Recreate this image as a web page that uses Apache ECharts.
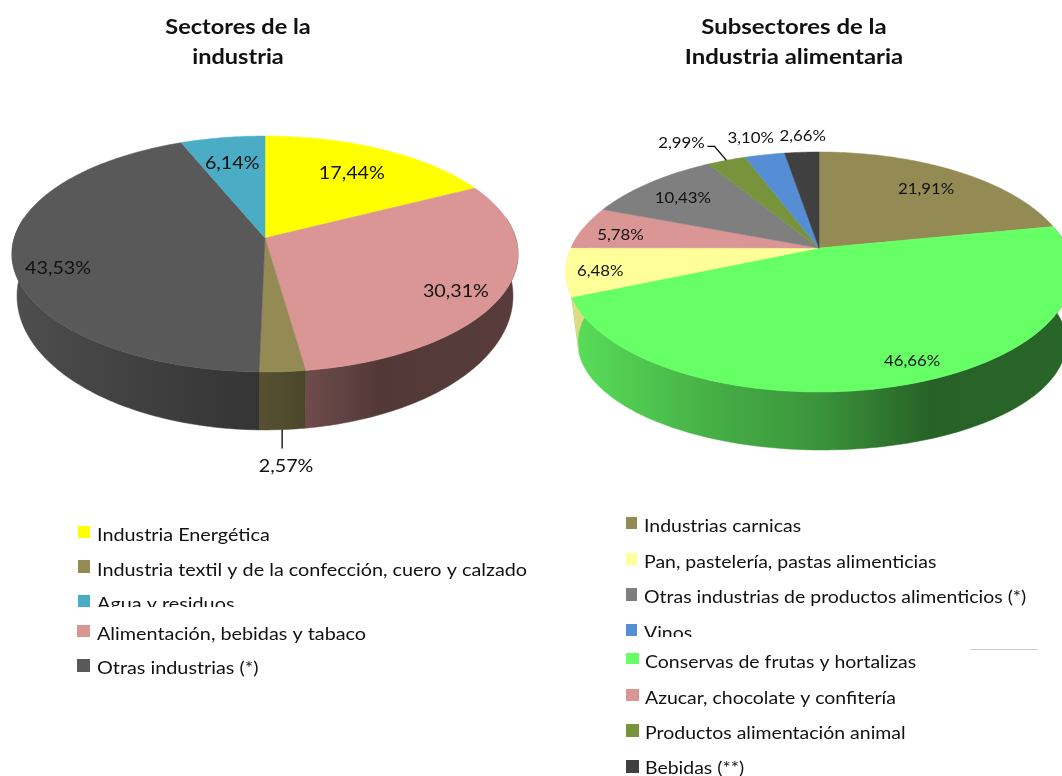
<!DOCTYPE html>
<html><head><meta charset="utf-8">
<style>html,body{margin:0;padding:0;background:#fff}#c{width:1062px;height:776px}</style>
<script src="https://cdn.jsdelivr.net/npm/echarts@6/dist/echarts.min.js"></script>
</head><body><div id="c"></div>
<script>
// ---- data ----
var sectorCategories = ['Industria Energética','Alimentación, bebidas y tabaco','Industria textil y de la confección, cuero y calzado','Otras industrias (*)','Agua y residuos'];
var sectorValues = [17.44,30.31,2.57,43.53,6.14];
var sectorLabels = ['17,44%','30,31%','2,57%','43,53%','6,14%'];
var sectorColors = ['#ffff00','#d99694','#948a54','#595959','#4bacc6'];
var sectorLegendOrder = [0,2,4,1,3];

var foodCategories = ['Industrias carnicas','Conservas de frutas y hortalizas','Pan, pastelería, pastas alimenticias','Azucar, chocolate y confitería','Otras industrias de productos alimenticios (*)','Productos alimentación animal','Vinos','Bebidas (**)'];
var foodValues = [21.91,46.66,6.48,5.78,10.43,2.99,3.10,2.66];
var foodLabels = ['21,91%','46,66%','6,48%','5,78%','10,43%','2,99%','3,10%','2,66%'];
var foodColors = ['#948a54','#66ff66','#ffff99','#d99694','#7f7f7f','#77933c','#558ed5','#404040'];
var foodLegendOrder = [0,2,4,6,1,3,5,7];

var titleTexts = ['Sectores de la\nindustria','Subsectores de la\nIndustria alimentaria'];

// ---- layout / style ----
var FONT = 'Lato';
var pieLeft = {
  cx:265, cy:238, A:250.7, B:115.8, a:0.1356, cxB:265, yBottom:277.8, A2:245.7, B2:131.5, aB:0.1356,
  x0:13, x1:519, labelSize:17, labelScale:1.16,
  // radial fraction, dx, dy, anchor on bottom rim
  place:[[0.72,0,0],[0.83,-4,5],[1,4,35,true],[0.84,4.5,11],[0.7,-2,-3]],
  leader:[null,null,[[0,0],[0,19]],null,null]
};
var pieRight = {
  cx:819, cy:248, A:247.9, B:115.2, a:0.2, cxB:822, yBottom:310, A2:233, B2:98, aB:0.3,
  x0:566, x1:1072, labelSize:15, labelScale:1.12,
  place:[[0.76,0,0],[0.8,24,8],[0.9,8,0],[0.84,0,3],[0.76,-4,0],[1,-45,-19],[1,-14,-18],[1,1,-18]],
  leader:[null,null,null,null,null,[[0,0],[-12,-14],[-19,-14]],null,null]
};
var shadeStops = [[0,0.88],[0.3,0.68],[0.5,0.58],[0.72,0.38],[1,0.40]];

function shade(hex,k){
  var n=parseInt(hex.slice(1),16);
  var r=Math.round(((n>>16)&255)*k),g=Math.round(((n>>8)&255)*k),b=Math.round((n&255)*k);
  return 'rgb('+r+','+g+','+b+')';
}
function topPt(p,deg,f){
  var t=deg*Math.PI/180,u=Math.sin(t)*f,v=Math.cos(t)*f,d=1+p.a*v;
  return [p.cx+p.A*u/d,p.cy-p.B*v/d];
}
function botPt(p,deg){
  var t=deg*Math.PI/180,u=Math.sin(t),v=Math.cos(t),d=1+p.aB*v;
  return [p.cxB+p.A2*u/d,p.yBottom-p.B2*v/d];
}
function angles(values,i){
  var tot=0,st=0,j;
  for(j=0;j<values.length;j++){tot+=values[j]; if(j<i) st+=values[j];}
  return [st/tot*360,(st+values[i])/tot*360];
}
function arc(fn,s,e){
  var pts=[],n=Math.max(2,Math.ceil(e-s)),k;
  for(k=0;k<=n;k++) pts.push(fn(s+(e-s)*k/n));
  return pts;
}
function wallSeries(p,values,colors){
  return {type:'custom',coordinateSystem:'none',silent:true,clip:false,
    data:values.map(function(v,i){return [v,i];}),
    renderItem:function(params,api){
      var i=api.value(1),ang=angles(values,i),kids=[];
      var s=Math.max(ang[0],80),e=Math.min(ang[1],280);
      if(e<=s) return {type:'group',children:[]};
      var top=arc(function(d){return topPt(p,d,1);},s,e);
      var bot=arc(function(d){return botPt(p,d);},s,e).reverse();
      var fill=new echarts.graphic.LinearGradient(p.x0,0,p.x1,0,shadeStops.map(function(q){
        return {offset:q[0],color:shade(colors[i],q[1])};}),true);
      kids.push({type:'polygon',shape:{points:top.concat(bot)},style:{fill:fill,stroke:fill,lineWidth:0.5}});
      return {type:'group',children:kids};
    }};
}
function faceSeries(p,values,colors){
  return {type:'custom',coordinateSystem:'none',silent:true,clip:false,
    data:values.map(function(v,i){return [v,i];}),
    renderItem:function(params,api){
      var i=api.value(1),ang=angles(values,i);
      var rim=arc(function(d){return topPt(p,d,1);},ang[0],ang[1]);
      return {type:'polygon',shape:{points:[[p.cx,p.cy]].concat(rim)},
        style:{fill:colors[i],stroke:colors[i],lineWidth:0.5}};
    }};
}
function labelSeries(p,values,labels){
  return {type:'custom',coordinateSystem:'none',silent:true,clip:false,
    data:values.map(function(v,i){return [v,i];}),
    renderItem:function(params,api){
      var i=api.value(1),ang=angles(values,i),mid=(ang[0]+ang[1])/2,pl=p.place[i];
      var base=pl[3]?botPt(p,mid):topPt(p,mid,pl[0]),kids=[];
      if(p.leader[i]){
        kids.push({type:'polyline',shape:{points:p.leader[i].map(function(o){return [base[0]+o[0],base[1]+o[1]];})},
          style:{fill:null,stroke:'#000',lineWidth:1.3}});
      }
      kids.push({type:'text',x:base[0]+pl[1],y:base[1]+pl[2]+1.5,scaleX:p.labelScale,
        style:{text:labels[i],fill:'#111',fontFamily:FONT,fontSize:p.labelSize,align:'center',verticalAlign:'middle'}});
      return {type:'group',children:kids};
    }};
}
function legendItems(cats,cols,order,rows,sx){
  var out=[];
  order.forEach(function(idx,k){
    var r=rows[k];
    out.push({type:'rect',shape:{x:r[0],y:r[1],width:r[2],height:r[3]},style:{fill:cols[idx]}});
    out.push({type:'text',x:r[4],y:r[5],scaleX:sx,style:{text:cats[idx],fill:'#111',fontFamily:FONT,fontSize:17,align:'left',verticalAlign:'middle'}});
  });
  return out;
}
// swatch x,y,w,h, text x,y
var leftLegendRows=[[78,526,12,12,97,536],[78,560,12,13,97,571],[78,595,12,12,97,605],[77,625,13,12,97,635],[77,659,13,13,97,669]];
var rightLegendRows=[[626,517,11,12,644,527],[626,553,11,12,644,563],[626,588,11,13,644,598],[626,624,11,12,644,634],[626,653,13,11,645,663],[626,689,13,12,645,699],[626,724,13,13,645,734],[626,760,13,13,645,769]];

function titleItem(text,x,y,sx){
  return {type:'text',x:x,y:y,scaleX:sx,style:{text:text,fill:'#111',fontFamily:FONT,fontWeight:'bold',fontSize:21,lineHeight:30,align:'center',verticalAlign:'middle'}};
}
var graphics=[].concat(
  [titleItem(titleTexts[0],238,42,1.12),titleItem(titleTexts[1],794,42,1.14)],
  legendItems(sectorCategories,sectorColors,sectorLegendOrder,leftLegendRows,1.165),
  legendItems(foodCategories,foodColors,foodLegendOrder,rightLegendRows,1.145),
  [
   {type:'rect',shape:{x:70,y:607,width:300,height:14},style:{fill:'#fff'},z:50},
   {type:'rect',shape:{x:620,y:637,width:200,height:13},style:{fill:'#fff'},z:50},
   {type:'line',shape:{x1:970,y1:649.5,x2:1038,y2:649.5},style:{stroke:'#cccccc',lineWidth:1},z:51}
  ]);

var chart=echarts.init(document.getElementById('c'),null,{renderer:'canvas'});
chart.setOption({
  animation:false,
  backgroundColor:'#fff',
  series:[
    wallSeries(pieLeft,sectorValues,sectorColors),
    faceSeries(pieLeft,sectorValues,sectorColors),
    labelSeries(pieLeft,sectorValues,sectorLabels),
    wallSeries(pieRight,foodValues,foodColors),
    faceSeries(pieRight,foodValues,foodColors),
    labelSeries(pieRight,foodValues,foodLabels)
  ],
  graphic:{elements:graphics}
});
</script></body></html>
